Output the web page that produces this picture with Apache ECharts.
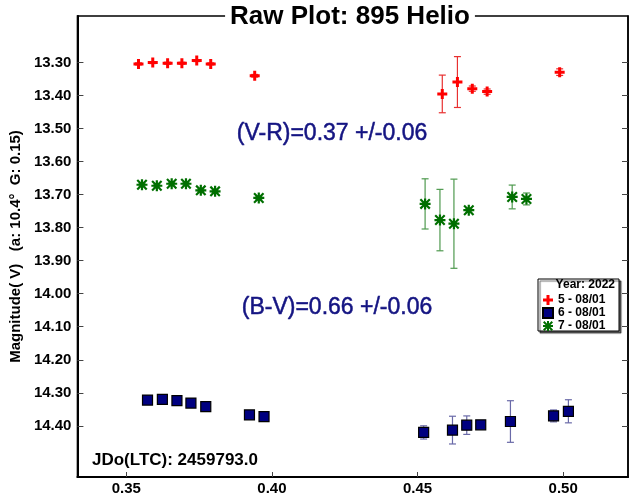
<!DOCTYPE html>
<html>
<head>
<meta charset="utf-8">
<script src="https://cdn.jsdelivr.net/npm/echarts@6/dist/echarts.min.js"></script>
<style>html,body{margin:0;padding:0;background:#fff}#c{width:630px;height:496px}</style>
</head>
<body>
<div id="c"></div>
<script>
// ---- data (x = fraction of JD, y = magnitude, err = half error bar) ----
const xTicks = [0.35, 0.40, 0.45, 0.50];
const yTicks = [13.30, 13.40, 13.50, 13.60, 13.70, 13.80, 13.90, 14.00, 14.10, 14.20, 14.30, 14.40];

const redName = '5 - 08/01';
const redX   = [0.3542, 0.3591, 0.3642, 0.3691, 0.3742, 0.3790, 0.3941, 0.4585, 0.4637, 0.4688, 0.4739, 0.4988];
const redY   = [13.304, 13.300, 13.302, 13.302, 13.294, 13.304, 13.340, 13.395, 13.359, 13.379, 13.388, 13.329];
const redErr = [0.003, 0.003, 0.003, 0.003, 0.003, 0.003, 0.004, 0.057, 0.077, 0.008, 0.008, 0.010];

const blueName = '6 - 08/01';
const blueX   = [0.3573, 0.3624, 0.3674, 0.3722, 0.3773, 0.3923, 0.3973, 0.4521, 0.4620, 0.4669, 0.4717, 0.4819, 0.4967, 0.5018];
const blueY   = [14.322, 14.320, 14.324, 14.331, 14.342, 14.367, 14.372, 14.420, 14.413, 14.398, 14.397, 14.387, 14.370, 14.356];
const blueErr = [0.004, 0.004, 0.004, 0.004, 0.004, 0.005, 0.005, 0.020, 0.042, 0.028, 0.006, 0.063, 0.018, 0.035];

const greenName = '7 - 08/01';
const greenX   = [0.3554, 0.3605, 0.3656, 0.3705, 0.3756, 0.3805, 0.3955, 0.4526, 0.4577, 0.4625, 0.4676, 0.4825, 0.4874];
const greenY   = [13.670, 13.673, 13.667, 13.667, 13.687, 13.690, 13.710, 13.728, 13.777, 13.788, 13.747, 13.707, 13.713];
const greenErr = [0.004, 0.004, 0.004, 0.004, 0.004, 0.004, 0.005, 0.076, 0.093, 0.135, 0.006, 0.036, 0.018];

const titleText = 'Raw Plot: 895 Helio';
const yName = 'Magnitude( V)   (a: 10.4°  G: 0.15)';
const jdText = 'JDo(LTC): 2459793.0';
const legendTitle = 'Year: 2022';
const noteVR = '(V-R)=0.37 +/-0.06';
const noteBV = '(B-V)=0.66 +/-0.06';

// ---- helpers ----
const FONT = '"Liberation Sans", Arial, sans-serif';
function pts(xs, ys) { return xs.map((x, i) => [x, ys[i]]); }
function errPts(xs, ys, es) { return xs.map((x, i) => [x, ys[i], es[i]]); }
function errSeries(name, data, color) {
  return {
    type: 'custom', name: name + ' err', data: data, z: 2, silent: true,
    encode: { x: 0, y: 1 },
    renderItem: function (params, api) {
      const x = api.value(0), y = api.value(1), e = api.value(2);
      const a = api.coord([x, y - e]), b = api.coord([x, y + e]);
      const w = 3.5;
      const st = { stroke: color, lineWidth: 1.2 };
      return { type: 'group', children: [
        { type: 'line', shape: { x1: a[0], y1: a[1], x2: b[0], y2: b[1] }, style: st },
        { type: 'line', shape: { x1: a[0] - w, y1: a[1], x2: a[0] + w, y2: a[1] }, style: st },
        { type: 'line', shape: { x1: b[0] - w, y1: b[1], x2: b[0] + w, y2: b[1] }, style: st }
      ]};
    }
  };
}
const plusPath = 'path://M0 3.5h10v3h-10z M3.5 0h3v10h-3z';
const starPath = 'path://M0 4h10v2h-10z M4 0h2v10h-2z M1.4 0L10 8.6L8.6 10L0 1.4z M8.6 0L10 1.4L1.4 10L0 8.6z';

const chart = echarts.init(document.getElementById('c'), null, { renderer: 'canvas' });
const xMin = 0.33324, xMax = 0.52226, yMin = 13.159, yMax = 14.555;

const option = {
  animation: false,
  backgroundColor: '#fff',
  grid: { left: 76, right: 2, top: 16, bottom: 18, show: true, borderColor: '#000', borderWidth: 1.5, backgroundColor: 'transparent' },
  xAxis: {
    type: 'value', min: xMin, max: xMax,
    axisLine: { show: true, onZero: false, lineStyle: { color: '#000', width: 2 } },
    axisTick: { show: true, inside: true, length: 5, customValues: xTicks, lineStyle: { color: '#444' } },
    axisLabel: { customValues: xTicks, formatter: v => v.toFixed(2), color: '#000', fontWeight: 'bold', fontSize: 15, fontFamily: FONT, margin: 4 },
    splitLine: { show: false }
  },
  yAxis: [{
    type: 'value', inverse: true, min: yMin, max: yMax,
    name: yName, nameLocation: 'middle', nameRotate: 90, nameGap: 49,
    nameTextStyle: { color: '#000', fontWeight: 'bold', fontSize: 15, fontFamily: FONT },
    axisLine: { show: true, onZero: false, lineStyle: { color: '#000', width: 2 } },
    axisTick: { show: true, inside: true, length: 6, customValues: yTicks, lineStyle: { color: '#444' } },
    axisLabel: { customValues: yTicks, formatter: v => v.toFixed(2), color: '#000', fontWeight: 'bold', fontSize: 15, fontFamily: FONT, margin: 6 },
    splitLine: { show: false }
  }, {
    type: 'value', inverse: true, min: yMin, max: yMax, position: 'right',
    axisLine: { show: true, onZero: false, lineStyle: { color: '#000', width: 1.5 } },
    axisTick: { show: true, inside: true, length: 6, customValues: yTicks, lineStyle: { color: '#444' } },
    axisLabel: { show: false },
    splitLine: { show: false }
  }],
  legend: {
    z: 60, left: 542, top: 294, orient: 'vertical', itemGap: 1, itemWidth: 10, itemHeight: 10,
    data: [redName, blueName, greenName], selectedMode: false,
    textStyle: { color: '#000', fontWeight: 'bold', fontSize: 12, lineHeight: 11, fontFamily: FONT },
    padding: 0
  },
  graphic: [
    { type: 'rect', z: 50, shape: { x: 538, y: 279, width: 81, height: 52 },
      style: { fill: '#fff', stroke: '#000', lineWidth: 1, shadowColor: 'rgba(0,0,0,0.6)', shadowOffsetX: 2, shadowOffsetY: 2, shadowBlur: 1 } },
    { type: 'text', z: 51, x: 615, y: 285, style: { text: legendTitle, font: 'bold 12px ' + FONT, fill: '#000', align: 'right', verticalAlign: 'middle' } },
    { type: 'text', z: 100, x: 350, y: 17, style: { text: titleText, font: 'bold 26px ' + FONT, fill: '#000', align: 'center', verticalAlign: 'middle', backgroundColor: '#fff', padding: [0, 5, 0, 5] } },
    { type: 'text', z: 60, x: 92, y: 460, style: { text: jdText, font: 'bold 17px ' + FONT, fill: '#000', align: 'left', verticalAlign: 'middle' } },
    { type: 'text', z: 60, x: 332, y: 134, style: { text: noteVR, font: '23px ' + FONT, fill: '#141482', stroke: '#141482', lineWidth: 0.5, align: 'center', verticalAlign: 'middle' } },
    { type: 'text', z: 60, x: 337, y: 308, style: { text: noteBV, font: '23px ' + FONT, fill: '#141482', stroke: '#141482', lineWidth: 0.5, align: 'center', verticalAlign: 'middle' } }
  ],
  series: [
    errSeries(redName, errPts(redX, redY, redErr), '#e83030'),
    errSeries(blueName, errPts(blueX, blueY, blueErr), '#6a6aa8'),
    errSeries(greenName, errPts(greenX, greenY, greenErr), '#4f9a4f'),
    { type: 'scatter', name: redName, data: pts(redX, redY), symbol: plusPath, symbolSize: 10, z: 5,
      itemStyle: { color: '#ff0000', opacity: 1 } },
    { type: 'scatter', name: blueName, data: pts(blueX, blueY), symbol: 'rect', symbolSize: 10, z: 5,
      itemStyle: { color: '#000080', borderColor: '#000', borderWidth: 1.2, opacity: 1 } },
    { type: 'scatter', name: greenName, data: pts(greenX, greenY), symbol: starPath, symbolSize: 11, z: 5,
      itemStyle: { color: '#006f00', opacity: 1 } }
  ]
};
chart.setOption(option);
</script>
</body>
</html>
